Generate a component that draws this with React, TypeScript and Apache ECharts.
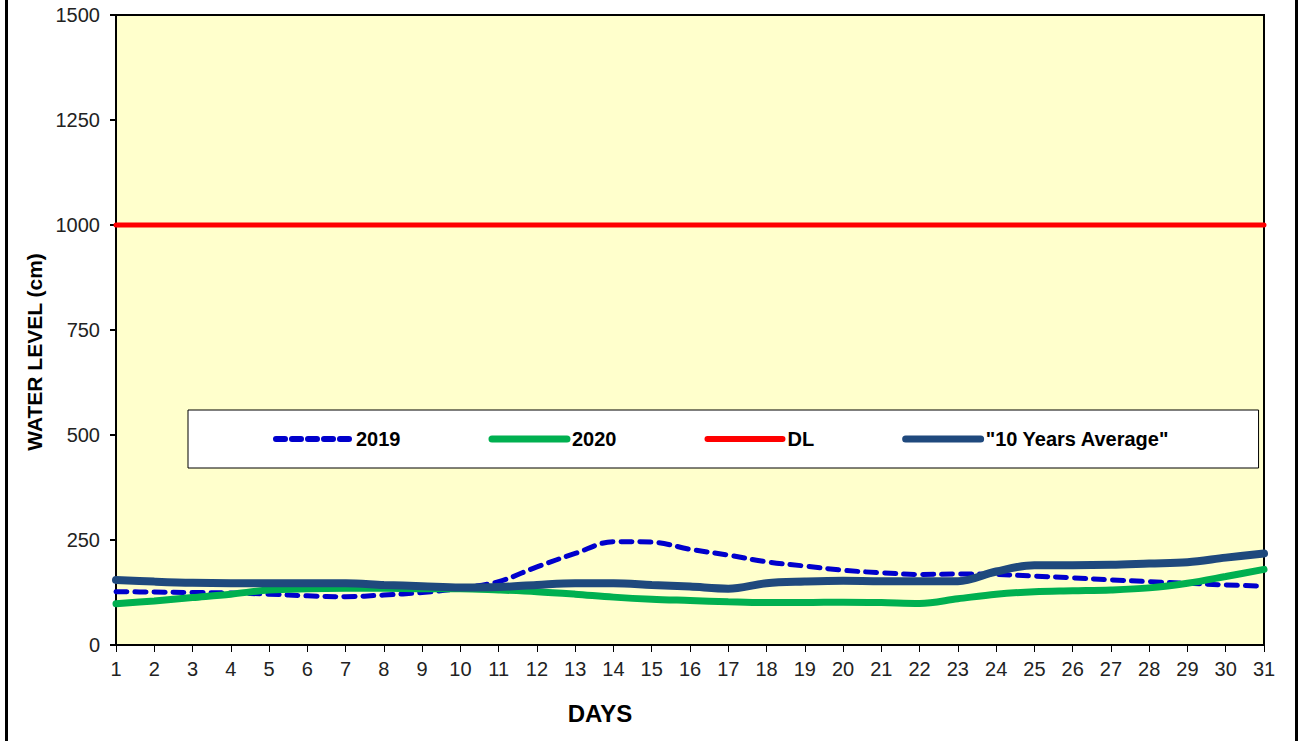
import React, { useEffect, useRef } from "react";
import * as echarts from "echarts";

const days = ["1","2","3","4","5","6","7","8","9","10","11","12","13","14","15","16","17","18","19","20","21","22","23","24","25","26","27","28","29","30","31"];
const level2019 = [127,126,125,124,121,117,115,119,125,135,151,186,218,246,245,228,214,198,188,178,172,168,169,168,164,160,155,151,147,143,140];
const level2020 = [98,105,113,121,131,134,135,135,134,134,131,127,121,114,109,106,103,101,101,102,101,99,110,121,127,129,131,136,147,163,180];
const levelDL = [1000,1000,1000,1000,1000,1000,1000,1000,1000,1000,1000,1000,1000,1000,1000,1000,1000,1000,1000,1000,1000,1000,1000,1000,1000,1000,1000,1000,1000,1000,1000];
const level10yr = [155,151,148,147,147,147,147,143,140,137,138,143,147,147,143,139,134,147,151,153,152,152,152,175,190,190,191,194,197,208,218];
const seriesNames = ["2019", "2020", "DL", "\"10 Years Average\""];
const colors = ["#0000CC", "#00B050", "#FF0000", "#1F497D"];

const FONT = "'Liberation Sans', Arial, sans-serif";

export default function App() {
  const ref = useRef<HTMLDivElement>(null);
  useEffect(() => {
    if (!ref.current) return;
    const chart = echarts.init(ref.current, undefined, { renderer: "svg" });
    chart.setOption({
      animation: false,
      backgroundColor: "#ffffff",
      grid: {
        left: 116, top: 15, right: 34, bottom: 96,
        show: true, backgroundColor: "#FFFFCC", borderColor: "#000", borderWidth: 2,
      },
      graphic: [
        { type: "rect", left: 5, top: 0, shape: { width: 3, height: 741 }, style: { fill: "#000" } },
        { type: "rect", left: 1295, top: 0, shape: { width: 3, height: 741 }, style: { fill: "#000" } },
      ],
      legend: {
        left: 188, top: 410,
        padding: [19, 89, 19, 85],
        itemWidth: 75, itemHeight: 18, itemGap: 88,
        backgroundColor: "#ffffff", borderColor: "#000", borderWidth: 1,
        itemStyle: { opacity: 0 },
        textStyle: { fontFamily: FONT, fontWeight: "bold", fontSize: 20, color: "#000" },
        data: [
          { name: seriesNames[0], lineStyle: { color: colors[0], width: 6, type: [9, 7], cap: "round" } },
          { name: seriesNames[1], lineStyle: { color: colors[1], width: 7, cap: "round" } },
          { name: seriesNames[2], lineStyle: { color: colors[2], width: 6, cap: "round" } },
          { name: seriesNames[3], lineStyle: { color: colors[3], width: 7, cap: "round" } },
        ],
      },
      xAxis: {
        type: "category", data: days, boundaryGap: false,
        name: "DAYS", nameLocation: "middle", nameGap: 56,
        nameTextStyle: { fontFamily: FONT, fontWeight: "bold", fontSize: 24, color: "#000", padding: [0, 180, 0, 0] },
        axisLine: { lineStyle: { color: "#000", width: 2 } },
        axisTick: { show: true, length: 7, lineStyle: { color: "#000", width: 1 }, alignWithLabel: true },
        axisLabel: { fontFamily: FONT, fontSize: 20, color: "#222", margin: 14, interval: 0 },
        splitLine: { show: false },
      },
      yAxis: {
        type: "value", min: 0, max: 1500, interval: 250,
        name: "WATER LEVEL (cm)", nameLocation: "middle", nameGap: 62,
        nameTextStyle: { fontFamily: FONT, fontWeight: "bold", fontSize: 21, color: "#000", padding: [0, 44, 0, 0] },
        axisLine: { show: true, lineStyle: { color: "#000", width: 2 } },
        axisTick: { show: true, length: 6, lineStyle: { color: "#000", width: 2 } },
        axisLabel: { fontFamily: FONT, fontSize: 20, color: "#222", margin: 16, formatter: (v: number) => String(v) },
        splitLine: { show: false },
      },
      series: [
        {
          name: seriesNames[0], type: "line", data: level2019, symbol: "none", smooth: 0.35,
          lineStyle: { color: colors[0], width: 5, type: [11, 8], cap: "round" },
          itemStyle: { color: colors[0] },
        },
        {
          name: seriesNames[1], type: "line", data: level2020, symbol: "none", smooth: 0.35,
          lineStyle: { color: colors[1], width: 7, cap: "round" },
          itemStyle: { color: colors[1] },
        },
        {
          name: seriesNames[2], type: "line", data: levelDL, symbol: "none",
          lineStyle: { color: colors[2], width: 5, cap: "round" },
          itemStyle: { color: colors[2] },
        },
        {
          name: seriesNames[3], type: "line", data: level10yr, symbol: "none", smooth: 0.35,
          lineStyle: { color: colors[3], width: 8, cap: "round" },
          itemStyle: { color: colors[3] },
        },
      ],
    });
    return () => chart.dispose();
  }, []);
  return (
    <div
      ref={ref}
      style={{ position: "fixed", left: 0, top: 0, width: 1298, height: 741 }}
    />
  );
}
